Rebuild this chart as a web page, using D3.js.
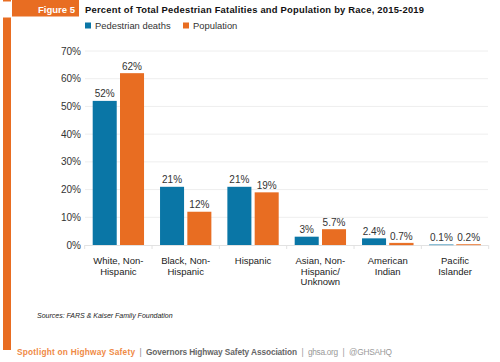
<!DOCTYPE html>
<html>
<head>
<meta charset="utf-8">
<script src="https://cdn.jsdelivr.net/npm/d3@7"></script>
<style>
  body { margin: 0; background: #fff; }
  svg { display: block; font-family: "Liberation Sans", Arial, sans-serif; }
</style>
</head>
<body>
<svg id="chart" width="500" height="362"></svg>
<script>
// data
var categories = ["White, Non-|Hispanic", "Black, Non-|Hispanic", "Hispanic",
                  "Asian, Non-|Hispanic/|Unknown", "American|Indian", "Pacific|Islander"];
var series = ["Pedestrian deaths", "Population"];
var deaths = [52, 21, 21, 3, 2.4, 0.1];
var population = [62, 12, 19, 5.7, 0.7, 0.2];
var deathLabels = ["52%", "21%", "21%", "3%", "2.4%", "0.1%"];
var popLabels = ["62%", "12%", "19%", "5.7%", "0.7%", "0.2%"];
var yTicks = [0, 10, 20, 30, 40, 50, 60, 70];

var colors = ["#0a76a6", "#e86d22"];
var orange = "#e86d22";

var svg = d3.select("#chart");

// left frame bar and figure tab
svg.append("rect").attr("x", 3).attr("y", 0).attr("width", 8).attr("height", 350).attr("fill", orange);
svg.append("rect").attr("x", 0).attr("y", 1.5).attr("width", 12).attr("height", 16).attr("fill", "#fff");
svg.append("rect").attr("x", 12).attr("y", 0).attr("width", 67).attr("height", 16.5).attr("fill", orange);
svg.append("text").attr("x", 75).attr("y", 12.5).attr("text-anchor", "end")
    .attr("fill", "#fff").attr("font-weight", "bold").attr("font-size", 9.5)
    .text("Figure 5");

svg.append("text").attr("x", 85).attr("y", 12.7)
    .attr("fill", "#111").attr("font-weight", "bold").attr("font-size", 9.4)
    .attr("textLength", 339).attr("lengthAdjust", "spacing")
    .text("Percent of Total Pedestrian Fatalities and Population by Race, 2015-2019");

// legend
var legendX = [85, 183];
series.forEach(function(s, i) {
    svg.append("rect").attr("x", legendX[i]).attr("y", 22.5).attr("width", 6).attr("height", 6)
        .attr("fill", colors[i]);
    svg.append("text").attr("x", legendX[i] + 10).attr("y", 29)
        .attr("fill", "#333").attr("font-size", 9.4).text(s);
});

var y = d3.scaleLinear().domain([0, 70]).range([245, 51]);
var x0 = d3.scaleBand().domain(categories).range([84.7, 488.7]);
var x1 = d3.scaleBand().domain(series).range([8, x0.bandwidth() - 8]).paddingInner(0.12);

// grid
svg.append("g").selectAll("line")
    .data(yTicks.slice(1))
    .join("line")
    .attr("x1", 85).attr("x2", 488)
    .attr("y1", function(d) { return y(d); })
    .attr("y2", function(d) { return y(d); })
    .attr("stroke", "#eeeeee").attr("stroke-width", 1);

svg.append("g").selectAll("text")
    .data(yTicks)
    .join("text")
    .attr("x", 81)
    .attr("y", function(d) { return y(d) + 3.5; })
    .attr("text-anchor", "end")
    .attr("fill", "#333").attr("font-size", 10)
    .text(function(d) { return d + "%"; });

// baseline with ticks between groups
svg.append("line").attr("x1", 85).attr("x2", 488).attr("y1", y(0) + 0.5).attr("y2", y(0) + 0.5)
    .attr("stroke", "#e2e2e2");
var bounds = categories.map(function(c) { return x0(c); }).concat([x0.range()[1]]);
svg.append("g").selectAll("line")
    .data(bounds)
    .join("line")
    .attr("x1", function(d) { return d; }).attr("x2", function(d) { return d; })
    .attr("y1", y(0)).attr("y2", y(0) + 4)
    .attr("stroke", "#e2e2e2");

// bars
var rows = categories.map(function(c, i) {
    return [
        { cat: c, s: series[0], v: deaths[i], label: deathLabels[i] },
        { cat: c, s: series[1], v: population[i], label: popLabels[i] }
    ];
});

var groups = svg.append("g").selectAll("g")
    .data(rows)
    .join("g")
    .attr("transform", function(d) { return "translate(" + x0(d[0].cat) + ",0)"; });

groups.selectAll("rect")
    .data(function(d) { return d; })
    .join("rect")
    .attr("x", function(d) { return x1(d.s); })
    .attr("y", function(d) { return y(d.v); })
    .attr("width", x1.bandwidth())
    .attr("height", function(d) { return y(0) - y(d.v); })
    .attr("fill", function(d, i) { return colors[i]; })
    .attr("stroke", function(d, i) { return colors[i]; })
    .attr("stroke-opacity", function(d) { return d.v < 1 ? 0.45 : 0; })
    .attr("stroke-width", 0.6);

groups.selectAll("text")
    .data(function(d) { return d; })
    .join("text")
    .attr("x", function(d) { return x1(d.s) + x1.bandwidth() / 2; })
    .attr("y", function(d) { return y(d.v) - 3.5; })
    .attr("text-anchor", "middle")
    .attr("fill", "#333").attr("font-size", 10)
    .text(function(d) { return d.label; });

// category labels
svg.append("g").selectAll("text")
    .data(categories)
    .join("text")
    .attr("x", function(d) { return x0(d) + x0.bandwidth() / 2; })
    .attr("y", 264)
    .attr("text-anchor", "middle")
    .attr("fill", "#222").attr("font-size", 9.5)
    .each(function(d) {
        var t = d3.select(this);
        d.split("|").forEach(function(line, i) {
            t.append("tspan").attr("x", x0(d) + x0.bandwidth() / 2)
                .attr("dy", i ? 10.6 : 0).text(line);
        });
    });

// source
svg.append("text").attr("x", 37).attr("y", 317.5)
    .attr("fill", "#222").attr("font-size", 7).attr("font-style", "italic")
    .text("Sources: FARS & Kaiser Family Foundation");

// footer
var footer = [
    { x: 17, w: 118, t: "Spotlight on Highway Safety", fill: "#ef8a45", bold: true },
    { x: 139.5, t: "|", fill: "#888", bold: false },
    { x: 146, w: 151, t: "Governors Highway Safety Association", fill: "#666", bold: true },
    { x: 301.5, t: "|", fill: "#999", bold: false },
    { x: 308, w: 30, t: "ghsa.org", fill: "#999", bold: false },
    { x: 342.5, t: "|", fill: "#999", bold: false },
    { x: 349, w: 43, t: "@GHSAHQ", fill: "#999", bold: false }
];
svg.append("g").selectAll("text")
    .data(footer)
    .join("text")
    .attr("x", function(d) { return d.x; })
    .attr("y", 354.5)
    .attr("font-size", 8.3)
    .attr("fill", function(d) { return d.fill; })
    .attr("font-weight", function(d) { return d.bold ? "bold" : "normal"; })
    .attr("textLength", function(d) { return d.w || null; })
    .text(function(d) { return d.t; });
</script>
</body>
</html>
